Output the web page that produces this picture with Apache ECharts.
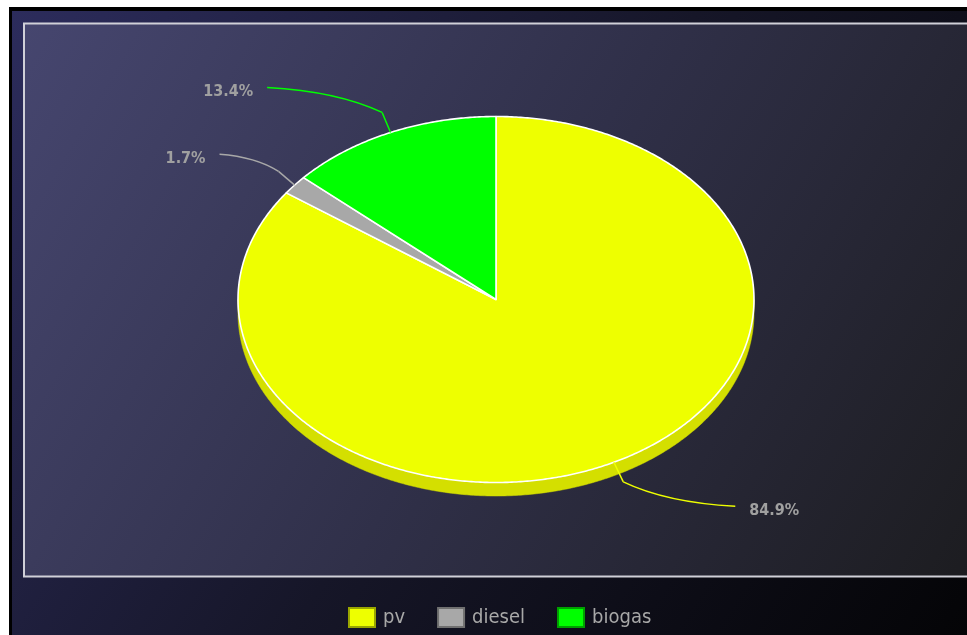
<!DOCTYPE html>
<html><head><meta charset="utf-8">
<script src="https://cdn.jsdelivr.net/npm/echarts@6/dist/echarts.min.js"></script>
<style>html,body{margin:0;padding:0;background:#fff;overflow:hidden}#c{width:967px;height:635px;}</style>
</head><body><div id="c"></div>
<script>
// ---- data ----
const categories = ['pv', 'diesel', 'biogas'];
const values = [84.9, 1.7, 13.4];
const labelTexts = ['84.9%', '1.7%', '13.4%'];

// ---- styles / layout ----
const colors = ['#eeff00', '#a8a8a8', '#00ff00'];
const sideColors = ['#d4df00', '#8a8a8a', '#00cc00'];
const iconBorders = ['#9aa600', '#707070', '#00a000'];
const FONT = '"DejaVu Sans Condensed", "DejaVu Sans", sans-serif';
const CX = 496, CY = 299.5, RX = 258, RY = 183, DEPTH = 13.5;
const ELBOW_KX = 1.08, ELBOW_KY = 1.12, END_KY = 1.27;
const linkLen = { pv: 112, diesel: 59, biogas: 115 };

const total = values.reduce((a, b) => a + b, 0);
const starts = [];
values.reduce((acc, v, i) => { starts[i] = acc; return acc + v; }, 0);

function pt(deg, kx, ky, dy) {
  const r = deg * Math.PI / 180;
  return [CX + RX * (kx || 1) * Math.sin(r), CY - RY * (ky || 1) * Math.cos(r) + (dy || 0)];
}

function makeRender(i) {
  return function (params, api) {
    const v = api.value(0);
    const a0 = starts[i] / total * 360, a1 = (starts[i] + v) / total * 360;
    const children = [];
    // visible side (front half)
    const s = Math.max(a0, 90), e = Math.min(a1, 270);
    if (e > s) {
      const pts = [];
      for (let d = s; d < e; d += 0.5) pts.push(pt(d));
      pts.push(pt(e));
      for (let d = e; d > s; d -= 0.5) pts.push(pt(d, 1, 1, DEPTH));
      pts.push(pt(s, 1, 1, DEPTH));
      children.push({ type: 'polygon', shape: { points: pts }, style: { fill: sideColors[i], stroke: sideColors[i], lineWidth: 0.5 }, z2: 1 });
    }
    // top face
    const top = [[CX, CY]];
    for (let d = a0; d < a1; d += 0.5) top.push(pt(d));
    top.push(pt(a1));
    children.push({ type: 'polygon', shape: { points: top }, style: { fill: colors[i], stroke: '#ffffff', lineWidth: 1.6, lineJoin: 'round' }, z2: 2 });
    // label + link
    const mid = (a0 + a1) / 2;
    const edge = pt(mid);
    const elbow = pt(mid, ELBOW_KX, ELBOW_KY);
    const right = Math.sin(mid * Math.PI / 180) > 0;
    const endY = pt(mid, 1, END_KY)[1];
    const endX = elbow[0] + (right ? 1 : -1) * linkLen[categories[i]];
    const dx = endX - elbow[0], dy = endY - elbow[1];
    children.push({ type: 'line', shape: { x1: edge[0], y1: edge[1], x2: elbow[0], y2: elbow[1] }, style: { stroke: colors[i], lineWidth: 1.5 }, z2: 5 });
    children.push({ type: 'bezierCurve', shape: { x1: elbow[0], y1: elbow[1], cpx1: elbow[0] + 0.25 * dx, cpy1: elbow[1] + 0.55 * dy, cpx2: elbow[0] + 0.6 * dx, cpy2: elbow[1] + 0.9 * dy, x2: endX, y2: endY }, style: { stroke: colors[i], lineWidth: 1.5, fill: null }, z2: 5 });
    children.push({ type: 'text', x: endX + (right ? 14 : -14), y: endY + 4.5, style: { text: labelTexts[i], fill: '#a0a0a0', font: 'bold 16px ' + FONT, align: right ? 'left' : 'right', verticalAlign: 'middle' }, z2: 6 });
    return { type: 'group', children: children };
  };
}

const chart = echarts.init(document.getElementById('c'), null, { renderer: 'canvas' });
chart.setOption({
  animation: false,
  graphic: [
    { type: 'rect', shape: { x: 9, y: 7, width: 970, height: 640 }, style: { fill: '#000000' }, z: -10 },
    { type: 'rect', shape: { x: 12, y: 11, width: 960, height: 630 }, style: { fill: new echarts.graphic.LinearGradient(0, 0, 1, 1, [{ offset: 0, color: '#2c2c5c' }, { offset: 0.5, color: '#161628' }, { offset: 1, color: '#040406' }]) }, z: -9 },
    { type: 'rect', shape: { x: 24, y: 23.5, width: 960, height: 553 }, style: { fill: new echarts.graphic.LinearGradient(0, 0, 1, 1, [{ offset: 0, color: '#46466f' }, { offset: 0.5, color: '#303049' }, { offset: 1, color: '#1c1c1f' }]), stroke: '#d0d0d8', lineWidth: 2 }, z: -8 }
  ],
  legend: {
    left: 348, top: 607, padding: 0, itemGap: 32, itemWidth: 26, itemHeight: 19, icon: 'rect',
    data: categories,
    textStyle: { color: '#a8a8a8', fontSize: 20, fontFamily: FONT, padding: [4, 0, 0, 3] },
    selectedMode: false
  },
  series: categories.map((name, i) => ({
    type: 'custom', name: name, coordinateSystem: 'none',
    itemStyle: { color: colors[i], borderColor: iconBorders[i], borderWidth: 1 },
    data: [[values[i]]],
    renderItem: makeRender(i),
    z: i === 0 ? 2 : 3
  }))
});
</script></body></html>
